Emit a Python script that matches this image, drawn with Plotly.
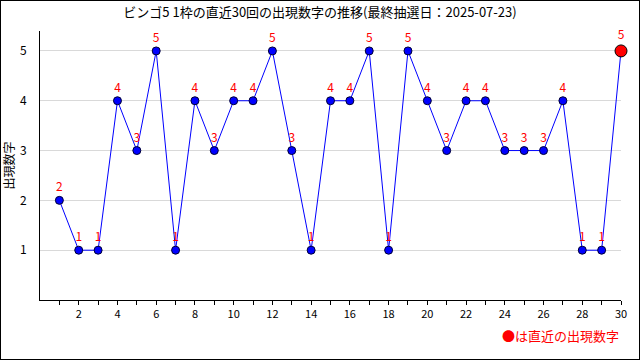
import plotly.graph_objects as go

draws = list(range(1, 31))
values = [2, 1, 1, 4, 3, 5, 1, 4, 3, 4, 4, 5, 3, 1, 4, 4, 5, 1, 5, 4, 3, 4, 4, 3, 3, 3, 4, 1, 1, 5]
title_text = "ビンゴ5 1枠の直近30回の出現数字の推移(最終抽選日：2025-07-23)"
x_tickvals = list(range(2, 31, 2))
y_tickvals = [1, 2, 3, 4, 5]

FONT = "Noto Sans CJK JP"
L, R, T, B = 40, 19, 31, 60
W, H = 640, 360
pw, ph = W - L - R, H - T - B

fig = go.Figure()
fig.add_trace(go.Scatter(
    x=draws, y=values, mode="lines",
    line=dict(color="#0000ff", width=1), hoverinfo="skip", showlegend=False))
fig.add_trace(go.Scatter(
    x=draws[:-1], y=values[:-1], mode="markers+text",
    marker=dict(color="#0000ff", size=8, line=dict(color="#000033", width=1)),
    text=[str(v) for v in values[:-1]], textposition="top center",
    textfont=dict(color="#ff0000", size=12, family=FONT), showlegend=False))
fig.add_trace(go.Scatter(
    x=[draws[-1]], y=[values[-1]], mode="markers+text",
    marker=dict(color="#ff0000", size=12, line=dict(color="#000000", width=1)),
    text=[str(values[-1])], textposition="top center",
    textfont=dict(color="#ff0000", size=12, family=FONT), showlegend=False))

fig.update_traces(cliponaxis=False)

fig.update_layout(
    width=W, height=H, margin=dict(l=L, r=R, t=T, b=B, autoexpand=False),
    paper_bgcolor="white", plot_bgcolor="white",
    font=dict(family=FONT, size=12, color="#000000"),
    title=dict(text=title_text, x=0.5, xanchor="center", y=1 - 12 / H, yanchor="middle",
               font=dict(size=13, family=FONT, color="#000000")),
    xaxis=dict(range=[0, 30], tickmode="array", tickvals=draws, automargin=False,
               ticktext=[str(d) if d in x_tickvals else "" for d in draws],
               ticks="outside", ticklen=4, tickcolor="#000", showgrid=False,
               showline=True, linecolor="#000", linewidth=1, zeroline=False,
               tickfont=dict(size=11)),
    yaxis=dict(range=[0, 5.4], tickmode="array", tickvals=y_tickvals, automargin=False,
               showgrid=True, gridcolor="#d9d9d9", gridwidth=1,
               showline=True, linecolor="#000", linewidth=1, zeroline=False,
               ticks="", ticklabelstandoff=10, tickfont=dict(size=12),
               title=dict(text="出現数字", standoff=6, font=dict(size=12))),
    annotations=[dict(text="●は直近の出現数字", xref="paper", yref="paper",
                      x=1, xanchor="right", y=-(335 - (T + ph)) / ph, yanchor="middle",
                      showarrow=False, font=dict(color="#ff0000", size=13, family=FONT))],
)

post = (
    "document.body.style.margin='0';document.body.style.overflow='hidden';"
    "var b=document.createElement('div');"
    "b.style.cssText='position:fixed;left:0;top:0;width:640px;height:360px;"
    "box-sizing:border-box;border:1px solid #000;pointer-events:none;z-index:10;';"
    "document.body.appendChild(b);"
)
fig.write_html("out.html", post_script=post, config={"displayModeBar": False})
